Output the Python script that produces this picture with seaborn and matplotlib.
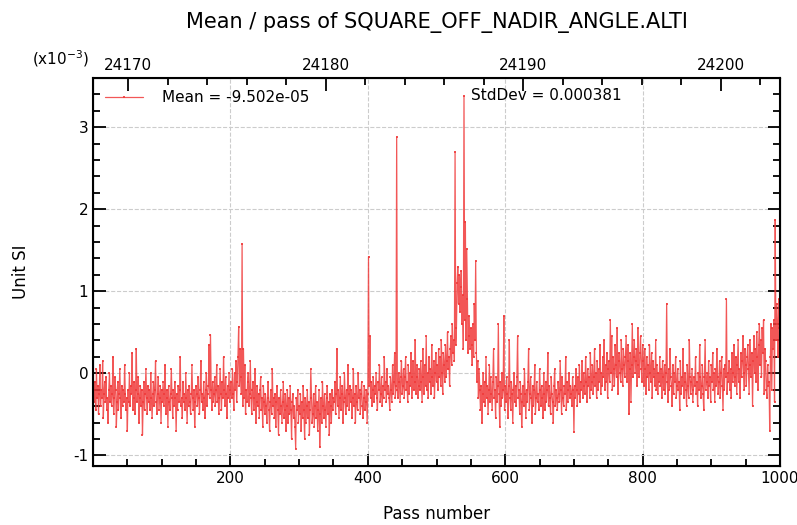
import numpy as np
import pandas as pd
import matplotlib
matplotlib.use('Agg')
import matplotlib.pyplot as plt
import seaborn as sns
from matplotlib.ticker import MultipleLocator

# mean per pass, in units of 1e-5
mean_e5 = [
    -20, -35, -10, -45, 5, -30, -15, -50, -25, 10, -40, -20, -30, 15, -55, -25, -10, -35, -5, -45, -30, -60, -20, 0, -35,
    -15, -40, -25, 20, -50, -30, -5, -20, -65, -35, -10, -45, -25, 5, -30, -55, -15, -40, -20, -35, 10, -25, -45, -30, -70,
    -20, -35, 0, -40, -15, -25, 25, -45, -30, -10, -50, -20, 30, -35, -25, -5, -60, -30, -15, -40, -20, -75, -35, -10, -45,
    -25, 5, -30, -50, -15, -35, -20, -45, 0, -30, -55, -25, -10, -40, -20, 15, -35, -50, -25, -5, -45, -30, -15, -60, -20,
    -35, -10, -40, -25, 10, -50, -30, -20, -65, -15, -35, -45, -25, 5, -30, -55, -20, -40, -10, -30, -70, -25, -45, -15, -35,
    -20, 20, -40, -30, -55, -10, -35, -25, -45, 0, -30, -60, -20, -40, -15, -35, -50, -25, 10, -30, -45, -20, -65, -35, -15,
    -25, -40, -5, -30, -50, -20, 15, -35, -25, -45, -10, -30, -55, -20, 0, -40, -25, -15, 35, -30, 47, -20, -45, -10, -35,
    -25, -5, -40, -20, 10, -35, -15, -50, -30, 5, -25, -45, -10, -30, 20, -20, -40, -5, -25, -55, -15, -30, 0, -35, -20,
    -10, -30, 5, -25, -45, 0, -20, 15, -35, -10, 20, 57, -15, 30, -5, -25, 158, -40, 30, -30, 10, -50, -20, -35, -10,
    0, -40, -25, 15, -30, -50, -20, -10, -45, -30, 5, -60, -35, -15, -40, -25, -55, -20, -5, -45, -30, -65, -15, -35, -50,
    -25, -40, -60, -30, -10, -45, -70, -35, -20, -50, 5, -40, -30, -55, -25, -65, -35, -15, -45, -75, -30, -50, -20, -40, -60,
    -35, -10, -55, -45, -25, -70, -40, -20, -60, -30, -50, -15, -45, -80, -35, -25, -55, -40, -65, -92, -30, -45, -20, -60, -40,
    -50, -25, -70, -35, -55, -15, -45, -80, -30, -60, -40, -20, -55, -35, -75, -45, 5, -30, -60, -50, -25, -65, -40, -15, -55,
    -35, -70, -45, -20, -90, -50, -30, -60, -10, -40, -55, -25, -45, -65, -30, -15, -50, -35, -75, -25, -40, -60, -20, -45, -30,
    -35, -10, -50, -25, 30, -40, -20, -55, -30, -5, -45, -25, -15, -60, -35, 0, -30, -50, -20, -40, 10, -25, -45, -15, -35,
    -20, -55, -30, 5, -40, -25, -60, -15, -35, -45, 0, -30, -20, -50, -25, -10, -40, -55, -30, -15, -45, -35, -20, -60, -25,
    142, -15, 45, -30, -10, -40, -20, -5, -35, -15, -25, 0, -30, -45, -10, -20, 10, -35, -25, -5, -40, -15, -30, 20, -20,
    -10, -35, 5, -25, -15, -30, -45, -5, -20, -35, 10, -25, -10, 25, -30, -15, 288, -20, -30, 0, -10, -35, -5, 15, -25,
    -15, 5, -30, -5, 20, -20, -10, -35, 10, -25, 0, -15, 25, -30, -5, 15, -20, -10, 40, -25, -5, 10, -30, -15, 5,
    -20, 15, -10, -35, 30, -5, -25, 10, -15, 45, -20, 0, -30, 20, -10, 5, -25, 35, -5, -15, 15, -30, 0, 25, -10,
    10, -20, 30, -5, 20, -15, 40, 0, -25, 25, 10, -10, 35, -5, 15, 50, 5, 20, -15, 30, 45, 10, 60, 25, 40,
    15, 270, 35, 55, 110, 130, 85, 120, 75, 105, 125, 60, 95, 30, 338, 65, 185, 40, 152, 90, 25, 70, 45, 30, 55,
    35, 10, 60, 20, 85, 40, 137, 25, -10, 15, -30, 5, -20, -45, -15, -60, -25, 0, -35, -10, -40, 20, -30, -15, -50,
    -20, 10, -35, -5, -25, -45, -10, 30, -30, -20, -55, -5, -35, -15, 60, -25, -65, -10, -40, 0, -30, -20, 70, -45, -15,
    -35, -5, -25, -55, -15, 40, -30, -45, -10, -25, -60, -20, 0, -35, -15, -40, -5, 45, -30, -20, -50, -10, -25, -65, -35,
    -15, -40, 5, -25, -55, -20, -35, -10, 30, -45, -25, -5, -30, -60, -15, -40, -20, 10, -50, -30, -10, -35, -25, -45, 5,
    -20, -40, -15, -30, -55, 0, -25, -45, -10, -35, -20, 25, -40, -15, -30, -50, -5, -25, -35, -60, -15, 5, -40, -20, -30,
    -45, -10, -25, -35, 15, -20, -50, -5, -30, -40, -15, -25, 20, -45, -10, -35, -20, 0, -30, -15, -25, -40, -5, -20, -72,
    -15, -30, 5, -20, -40, -5, -25, 10, -35, -10, -20, 15, -30, 0, -15, -25, 20, -10, -35, 5, -15, -5, -30, 25, -20,
    -10, 10, -25, -5, 30, -15, 0, -30, 15, -20, 5, -10, 35, -25, 0, -15, 20, -5, 40, -20, 10, -10, 25, -30, 5,
    15, -10, 65, 0, 45, -20, 20, 5, -15, 35, 10, -5, 55, -25, 15, 25, 0, -10, 40, 5, -15, 30, 10, -5, 20,
    45, -10, 15, 35, -50, 5, 25, -35, 10, 60, -5, 20, 40, 0, 15, 30, -15, 55, 10, -5, 25, 45, 5, -10, 35,
    15, -15, 30, 5, -25, 20, -5, 10, -20, 35, 0, -10, 25, -30, 15, -5, 5, -15, 40, -20, 10, -25, 0, -10, 20,
    -15, 5, -30, 15, -5, -20, 10, -25, 0, 85, -10, -35, 5, -20, 30, -5, -15, -40, 10, -25, 0, -10, 20, -30, -15,
    5, -20, -10, -45, 15, -25, -5, -15, 30, -30, -10, 0, -20, -40, 10, -15, -30, 40, -5, -25, -10, 5, -35, -20, -5,
    -15, 20, -25, -10, -40, 0, -20, 35, -5, -30, -15, 10, -25, -45, -5, 40, -20, -10, 0, -30, 15, -15, -5, -35, 10,
    -10, 25, -20, 0, -35, 5, -15, 30, -5, -25, -10, 15, -30, 0, 20, -15, -45, 5, -20, 10, -5, 90, -25, 0, -10,
    15, -20, 5, -30, 25, -10, 0, 35, -15, -5, 20, -25, 10, 40, -10, 5, -30, 25, -5, 15, 45, 0, -20, 30, 10,
    -15, 20, 35, 5, -25, 40, 10, -5, 25, -40, 15, 45, 0, 30, -10, 50, 20, -20, 35, 60, 10, 40, -5, 55, 25,
    65, -25, 30, 15, -20, -30, 10, -15, -10, -70, 20, 60, -20, 55, 30, 65, -35, 187, 40, 85, 60, 20, 90, 55, 65,
]
mean_label = 'Mean = -9.502e-05'
std_label = 'StdDev = 0.000381'

# cycle numbering on the top axis
cycle_start = 24168.23
cycle_end = 24203.0

passes = np.arange(1, len(mean_e5) + 1)
df = pd.DataFrame({'pass': passes, 'mean': np.array(mean_e5) / 100.0})

sns.set_style('white')
plt.rcParams['font.family'] = ['DejaVu Sans']
plt.rcParams['axes.unicode_minus'] = False
plt.rcParams.update({'text.color': 'black', 'axes.labelcolor': 'black',
                     'xtick.color': 'black', 'ytick.color': 'black',
                     'axes.edgecolor': 'black'})

fig = plt.figure(figsize=(7.97, 5.25), dpi=100)
ax = fig.add_axes([0.1167, 0.1124, 0.862, 0.739])

sns.lineplot(data=df, x='pass', y='mean', ax=ax, estimator=None, sort=False,
             color='#f03a3a', linewidth=0.9, alpha=0.85, marker='s', markersize=2.0,
             markeredgewidth=0, label=mean_label)

ax.set_xlim(0, 1000)
ax.set_ylim(-1.13, 3.6)
ax.xaxis.set_major_locator(MultipleLocator(200))
ax.xaxis.set_minor_locator(MultipleLocator(50))
ax.yaxis.set_major_locator(MultipleLocator(1))
ax.yaxis.set_minor_locator(MultipleLocator(0.2))
ax.set_xticks([200, 400, 600, 800, 1000])
ax.tick_params(which='both', direction='in', left=True, right=True, bottom=True, top=False,
               labelsize=11, width=1.3)
ax.tick_params(which='major', length=9)
ax.tick_params(which='minor', length=5)
ax.grid(True, which='major', color='#cccccc', linestyle='--', linewidth=0.8)
for s in ax.spines.values():
    s.set_linewidth(1.5)

ax.set_xlabel('Pass number', fontsize=12, labelpad=14)
ax.set_ylabel('Unit SI', fontsize=12, labelpad=31)

top = ax.twiny()
top.set_xlim(cycle_start, cycle_end)
top.xaxis.set_major_locator(MultipleLocator(10))
top.xaxis.set_minor_locator(MultipleLocator(2))
top.tick_params(which='both', direction='in', labelsize=11, width=1.3)
top.tick_params(which='major', length=9)
top.tick_params(which='minor', length=5)
top.set_title('Mean / pass of SQUARE_OFF_NADIR_ANGLE.ALTI', fontsize=15, pad=36)

leg = ax.legend(loc='upper left', frameon=False, fontsize=11, handlelength=2.5,
                borderaxespad=0.4, handletextpad=1.2)
ax.text(0.55, 0.956, std_label, transform=ax.transAxes, fontsize=11, va='center')
fig.text(0.04, 0.878, r'(x10$^{-3}$)', fontsize=11)

fig.savefig('out.png', dpi=100)
